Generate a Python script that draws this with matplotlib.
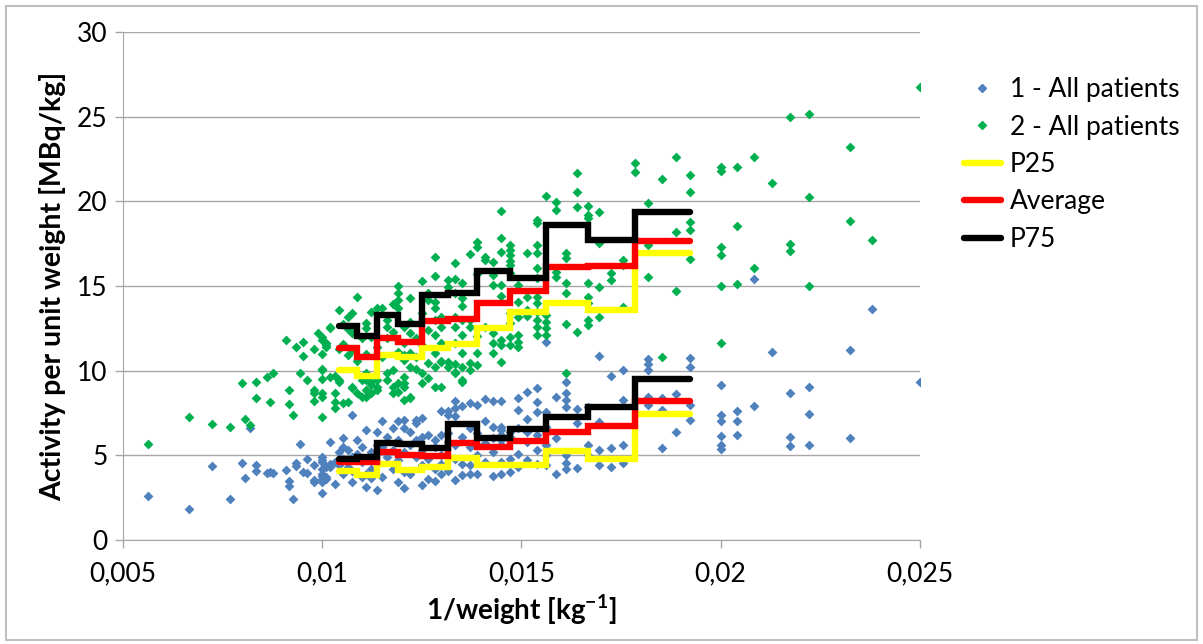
import matplotlib.pyplot as plt
import numpy as np
from matplotlib.lines import Line2D
from matplotlib.patches import Rectangle

plt.rcParams['font.family'] = ['Lato', 'DejaVu Sans']
plt.rcParams['mathtext.default'] = 'regular'
plt.rcParams['font.size'] = 18

# (patient weight [kg], activity per unit weight [MBq/kg])
pts_1 = [(178, 2.6), (150, 1.81), (138, 4.37), (130, 2.4), (125, 4.57), (124, 3.64), (122, 6.6),
         (120, 4.43), (120, 4.09), (116, 3.94), (115, 4.0), (114, 3.98), (110, 4.13), (109, 3.48),
         (109, 3.19), (108, 2.4), (107, 4.53), (107, 4.39), (106, 5.67), (105, 4.03), (104, 4.77),
         (104, 3.98), (102, 4.43), (102, 3.54), (102, 3.44),
         (100, 2.76), (100, 4.92), (100, 4.6), (100, 4.2), (100, 3.9), (100, 3.6), (100, 3.4),
         (100, 4.7), (100, 3.8), (99, 4.3), (99, 3.7), (99, 3.6), (98, 4.5), (98, 5.81), (98, 4.3),
         (97, 4.6), (97, 3.3), (96, 4.4), (96, 5.2), (95, 6.0), (95, 5.51), (95, 4.8), (95, 3.9),
         (94, 5.3), (94, 4.3), (93, 7.4), (93, 4.1), (93, 4.9), (93, 3.4), (92, 5.9), (92, 5.1),
         (91, 3.74), (91, 4.6), (91, 5.5), (90, 3.9), (90, 3.15), (90, 6.5), (90, 4.8), (89, 3.64),
         (89, 5.2), (89, 4.2), (88, 2.95), (88, 6.4), (88, 5.6), (88, 4.6), (87, 7.0), (87, 5.5),
         (87, 3.7), (86, 4.9), (86, 6.1), (85, 6.6), (85, 5.3), (85, 4.2), (84, 7.0), (84, 5.9),
         (84, 4.7), (84, 3.4), (83, 3.1), (83, 6.6), (83, 7.1), (83, 5.2), (83, 4.0), (82, 6.4),
         (82, 5.6), (82, 3.9), (81, 6.9), (81, 7.1), (81, 4.9), (81, 5.9), (80, 3.25), (80, 7.2),
         (80, 5.3), (80, 4.4), (80, 6.1), (79, 6.2), (79, 4.8), (79, 3.6), (78, 3.5), (78, 5.9),
         (78, 5.5), (78, 4.2), (77, 3.9), (77, 6.2), (77, 7.6), (77, 5.0), (77, 4.5), (76, 7.4),
         (76, 7.6), (76, 5.8), (76, 4.1), (76, 6.3), (75, 3.54), (75, 8.2), (75, 7.8), (75, 7.3),
         (75, 4.8), (75, 5.6), (74, 3.84), (74, 7.9), (74, 6.1), (74, 4.5), (73, 3.9), (73, 8.1),
         (73, 5.5), (73, 4.4), (73, 6.6), (72, 8.0), (72, 5.0), (72, 3.9), (72, 6.3), (71, 8.3),
         (71, 7.0), (71, 5.7), (71, 4.6), (70, 8.2), (70, 6.7), (70, 5.2), (70, 3.8), (70, 6.0),
         (69, 8.2), (69, 6.5), (69, 6.7), (69, 5.9), (69, 4.6), (69, 3.9), (69, 5.6), (69, 6.2),
         (68, 6.4), (68, 6.1), (68, 4.0), (68, 4.8), (67, 7.7), (67, 8.37), (67, 4.3), (67, 5.1),
         (67, 6.6), (66, 8.76), (66, 7.13), (66, 4.7), (66, 5.8), (66, 6.4), (65, 8.96), (65, 8.17),
         (65, 7.58), (65, 4.5), (65, 5.3), (65, 6.2), (64, 11.71), (64, 7.58), (64, 6.69), (64, 6.3),
         (64, 5.61), (64, 4.4), (64, 5.0), (63, 8.47), (63, 6.0), (63, 3.9), (62, 9.35), (62, 8.67),
         (62, 8.27), (62, 7.87), (62, 5.02), (62, 4.53), (62, 4.18), (61, 7.74), (61, 6.89),
         (61, 4.24), (60, 7.87), (60, 5.61), (60, 5.02), (59, 10.87), (59, 6.99), (59, 5.32),
         (59, 4.43), (58, 9.69), (58, 5.42), (58, 4.33), (57, 10.04), (57, 8.27), (57, 5.61),
         (57, 4.53), (55, 10.67), (55, 10.38), (55, 10.04), (55, 8.47), (55, 7.97), (54, 8.37),
         (54, 7.68), (54, 5.42), (53, 8.62), (53, 6.4), (52, 10.77), (52, 10.24), (52, 7.97),
         (52, 7.09), (50, 9.16), (50, 7.38), (50, 7.03), (50, 6.16), (50, 5.61), (50, 5.36),
         (49, 7.64), (49, 7.03), (49, 6.2), (48, 15.42), (48, 7.93), (47, 11.12), (46, 8.67),
         (46, 6.07), (46, 5.55), (45, 9.02), (45, 7.44), (45, 5.61), (43, 11.22), (43, 6.0),
         (42, 13.63), (40, 9.35)]

pts_2 = [(178, 5.67), (150, 7.25), (138, 6.83), (130, 6.69), (125, 9.29), (124, 7.15), (122, 6.79),
         (120, 9.35), (120, 8.4), (116, 9.61), (115, 8.13), (114, 9.85), (110, 11.81), (109, 8.86),
         (109, 8.01), (108, 7.38), (107, 11.42), (106, 9.85), (105, 11.71), (105, 10.89), (104, 9.45),
         (102, 11.28), (102, 8.86), (102, 8.21), (102, 8.67), (101, 12.2),
         (100, 12.01), (100, 10.04), (100, 9.49), (100, 8.47), (100, 7.28), (100, 11.81), (100, 10.08),
         (100, 8.67), (100, 11.0), (99, 11.52), (99, 11.62), (99, 11.42), (98, 12.5), (98, 9.65),
         (98, 12.6), (97, 7.78), (97, 9.69), (97, 8.17), (97, 8.67), (96, 13.59), (96, 9.35),
         (96, 9.45), (96, 11.3), (95, 12.76), (95, 8.07), (95, 11.6), (94, 12.44), (94, 13.15),
         (94, 8.17), (94, 10.9), (93, 12.21), (93, 13.39), (93, 8.96), (93, 9.06), (93, 11.2),
         (92, 14.34), (92, 8.67), (92, 10.6), (91, 9.45), (91, 8.47), (91, 11.9), (90, 12.8),
         (90, 12.5), (90, 9.45), (90, 8.86), (90, 8.47), (90, 9.85), (90, 11.0), (89, 13.49),
         (89, 9.16), (89, 9.35), (89, 8.67), (89, 12.0), (88, 13.69), (88, 8.86), (88, 9.45),
         (88, 9.06), (88, 11.4), (87, 13.69), (87, 10.8), (86, 13.0), (86, 12.6), (86, 9.85),
         (86, 9.45), (86, 11.9), (85, 13.94), (85, 9.06), (85, 8.67), (85, 10.04), (85, 12.3),
         (84, 15.0), (84, 14.57), (84, 14.18), (84, 13.69), (84, 8.76), (84, 9.26), (84, 11.1),
         (83, 12.6), (83, 11.62), (83, 9.65), (83, 9.26), (83, 8.27), (83, 10.63), (83, 9.06),
         (83, 10.9), (82, 14.28), (82, 12.21), (82, 11.03), (82, 8.37), (82, 10.24), (82, 8.47),
         (82, 12.9), (81, 10.1), (81, 11.9), (81, 10.8), (80, 15.32), (80, 9.85), (80, 9.26),
         (80, 13.4), (80, 11.5), (79, 14.57), (79, 14.18), (79, 9.55), (79, 10.44), (79, 12.4),
         (78, 16.7), (78, 15.59), (78, 14.08), (78, 13.69), (78, 13.0), (78, 12.11), (78, 11.03),
         (78, 9.06), (78, 10.24), (77, 13.19), (77, 12.6), (77, 11.62), (77, 10.53), (77, 9.06),
         (77, 10.6), (76, 15.36), (76, 14.96), (76, 10.53), (76, 10.24), (75, 16.34), (75, 15.4),
         (75, 14.57), (75, 13.19), (75, 12.6), (75, 11.62), (75, 9.94), (75, 9.85), (75, 10.4),
         (74, 15.16), (74, 14.28), (74, 13.79), (74, 13.0), (74, 12.11), (74, 11.03), (74, 10.24),
         (74, 9.45), (74, 9.35), (73, 16.89), (73, 13.0), (73, 12.6), (73, 10.44), (73, 10.04),
         (72, 17.62), (72, 17.33), (72, 15.69), (72, 12.02), (72, 11.03), (72, 10.34), (71, 16.73),
         (71, 16.54), (71, 12.6), (70, 16.44), (70, 15.65), (70, 15.06), (70, 12.21), (70, 11.62),
         (70, 11.03), (69, 19.43), (69, 17.82), (69, 17.03), (69, 15.06), (69, 14.41), (69, 11.82),
         (69, 11.52), (69, 10.53), (68, 17.45), (68, 17.1), (68, 16.83), (68, 16.5), (68, 16.24),
         (68, 15.76), (68, 13.39), (68, 12.8), (68, 12.0), (68, 11.5), (67, 15.06), (67, 14.08),
         (67, 13.19), (67, 12.11), (67, 11.71), (67, 11.42), (66, 16.93), (66, 14.37), (66, 13.59),
         (66, 13.2), (65, 18.9), (65, 18.7), (65, 17.42), (65, 16.93), (65, 16.05), (65, 15.46),
         (65, 14.37), (65, 13.98), (65, 13.49), (65, 13.0), (65, 12.6), (65, 12.11), (64, 20.34),
         (64, 13.29), (64, 12.89), (64, 12.5), (64, 12.11), (63, 19.98), (63, 19.49), (63, 15.85),
         (63, 15.55), (62, 16.93), (62, 16.64), (62, 15.16), (62, 14.57), (62, 12.74), (62, 9.85),
         (61, 21.66), (61, 20.57), (61, 19.65), (61, 12.3), (60, 19.73), (60, 19.2), (60, 19.0),
         (60, 15.16), (60, 14.37), (60, 13.98), (60, 13.0), (60, 12.7), (59, 19.39), (59, 17.52),
         (59, 14.96), (59, 13.19), (58, 15.75), (58, 15.36), (57, 16.54), (57, 16.24), (57, 13.78),
         (56, 22.25), (56, 21.76), (55, 19.89), (55, 17.42), (55, 15.55), (54, 21.32), (54, 10.83),
         (53, 22.6), (53, 18.17), (53, 14.73), (52, 21.56), (52, 20.54), (52, 18.8), (52, 18.31),
         (52, 16.58), (50, 22.05), (50, 21.81), (50, 17.32), (50, 16.83), (50, 15.0), (50, 11.65),
         (49, 22.01), (49, 18.57), (49, 15.1), (48, 22.6), (48, 16.05), (47, 21.07), (46, 25.0),
         (46, 17.48), (46, 17.09), (45, 25.14), (45, 20.24), (45, 15.0), (43, 23.23), (43, 18.84),
         (42, 17.72), (40, 26.78)]

# weight class edges [kg] for the percentile / average steps
class_edges = [96, 92, 88, 84, 80, 76, 72, 68, 64, 60, 56, 52]
p25_1 = [4.07, 3.84, 4.47, 4.13, 4.33, 4.86, 4.43, 4.43, 5.26, 4.78, 7.42]
avg_1 = [4.62, 4.62, 5.22, 5.02, 4.96, 5.71, 5.48, 5.84, 6.40, 6.75, 8.21]
p75_1 = [4.80, 4.92, 5.72, 5.66, 5.42, 6.83, 6.00, 6.56, 7.25, 7.84, 9.49]
p25_2 = [10.04, 9.66, 10.95, 10.80, 11.35, 11.60, 12.50, 13.49, 13.99, 13.59, 16.97]
avg_2 = [11.35, 10.81, 11.95, 11.70, 12.94, 13.04, 13.99, 14.68, 16.12, 16.17, 17.66]
p75_2 = [12.66, 12.05, 13.29, 12.76, 14.47, 14.61, 15.90, 15.49, 18.60, 17.72, 19.37]

xticks = [0.005, 0.01, 0.015, 0.02, 0.025]
xtick_labels = ['0,005', '0,01', '0,015', '0,02', '0,025']
yticks = [0, 5, 10, 15, 20, 25, 30]

blue = '#4F81BD'
green = '#00B050'
grid_col = '#A6A6A6'

fig = plt.figure(figsize=(12.03, 6.44), dpi=100)
ax = fig.add_axes([0.1022, 0.1615, 0.6625, 0.7888])

w1, a1 = zip(*pts_1)
w2, a2 = zip(*pts_2)
ax.scatter(1/np.array(w1), a1, marker='D', s=25, color=blue, linewidths=0, zorder=3)
ax.scatter(1/np.array(w2), a2, marker='D', s=25, color=green, linewidths=0, zorder=3)

xe = 1/np.array(class_edges)
for vals, col in [(p25_1, '#FFFF00'), (avg_1, '#FF0000'), (p75_1, 'black'),
                  (p25_2, '#FFFF00'), (avg_2, '#FF0000'), (p75_2, 'black')]:
    ax.step(xe, vals + [vals[-1]], where='post', color=col, lw=4.6,
            solid_capstyle='round', solid_joinstyle='miter', zorder=4)

ax.set_xlim(0.005, 0.025)
ax.set_ylim(0, 30)
ax.set_xticks(xticks)
ax.set_xticklabels(xtick_labels)
ax.set_yticks(yticks)
ax.yaxis.grid(True, color=grid_col, lw=1)
ax.set_axisbelow(True)
for s in ['top', 'right']:
    ax.spines[s].set_visible(False)
for s in ['left', 'bottom']:
    ax.spines[s].set_color(grid_col)
ax.tick_params(axis='both', colors=grid_col, labelcolor='black', length=6, width=1, labelsize=19)
ax.tick_params(axis='y', pad=5)
ax.tick_params(axis='x', pad=9)

ax.set_xlabel('1/weight [kg$^{-1}$]', fontweight='bold', fontsize=20, labelpad=5)
ax.set_ylabel('Activity per unit weight [MBq/kg]', fontweight='bold', fontsize=20.5, labelpad=8)

handles = [Line2D([], [], marker='D', color=blue, linestyle='none', markersize=4),
           Line2D([], [], marker='D', color=green, linestyle='none', markersize=4),
           Line2D([], [], color='#FFFF00', lw=4.6, solid_capstyle='round'),
           Line2D([], [], color='#FF0000', lw=4.6, solid_capstyle='round'),
           Line2D([], [], color='black', lw=4.6, solid_capstyle='round')]
labels = ['1 - All patients', '2 - All patients', 'P25', 'Average', 'P75']
fig.legend(handles, labels, loc='upper left', bbox_to_anchor=(0.801, 0.880), frameon=False,
           fontsize=19, handlelength=1.4, handletextpad=0.35, labelspacing=0.47,
           borderpad=0, borderaxespad=0)

fig.patches.append(Rectangle((0.005, 0.006), 0.99, 0.984, transform=fig.transFigure,
                             fill=False, edgecolor='#BFBFBF', lw=1.5))

fig.savefig('out.png', dpi=100)
